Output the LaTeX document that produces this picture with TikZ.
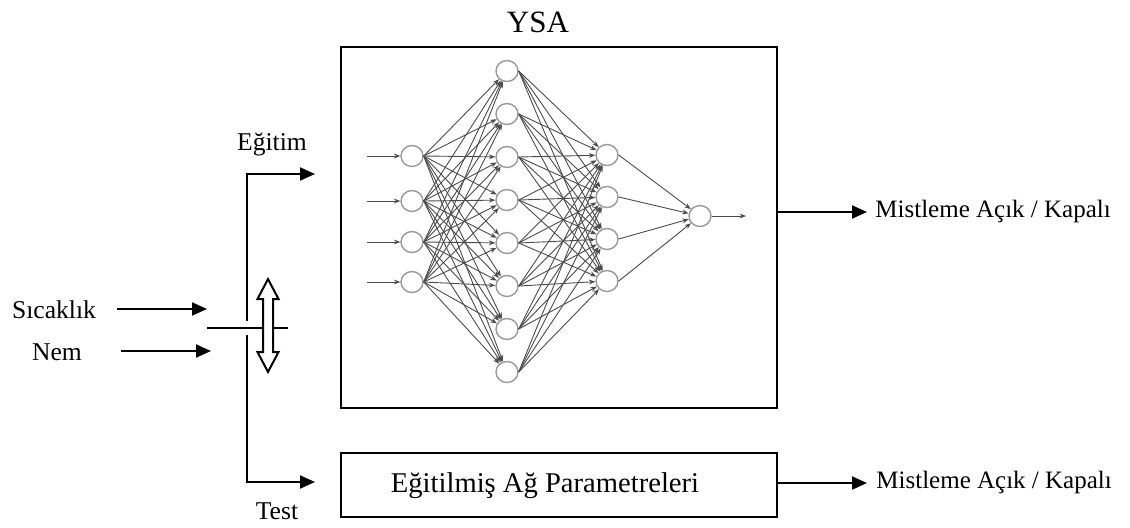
\documentclass[tikz,border=0pt]{standalone}
\usepackage{fontspec}
\setmainfont{Liberation Serif}
\usetikzlibrary{arrows.meta,shapes.geometric}
\begin{document}
\begin{tikzpicture}[x=0.5pt,y=-0.5pt,
  lbl/.style={font=\fontsize{12.8}{15}\selectfont, inner sep=0pt},
  blk/.style={draw=black, line width=1pt},
  flow/.style={draw=black, line width=1pt, -{Triangle[length=7.5pt,width=6.5pt]}},
  neuron/.style={draw=gray!80, ellipse, minimum width=11pt, minimum height=10.5pt, inner sep=0pt, line width=0.7pt},
  syn/.style={draw=black!70, line width=0.45pt, -{Stealth[length=3.2pt,width=2.4pt]}},
]
\useasboundingbox (0,0) rectangle (1130,527);

% main box and title
\node[blk, minimum width=218pt, minimum height=180.5pt, inner sep=0pt] (ysa) at (559,227.5) {};
\node[font=\fontsize{15.5}{18}\selectfont, inner sep=0pt, anchor=base] (ysat) at (538,32) {YSA};

% bottom box
\node[blk, minimum width=218pt, minimum height=32pt, inner sep=0pt] (par) at (559,485) {};
\node[font=\fontsize{14.3}{17}\selectfont, inner sep=0pt, anchor=base] (part) at (545,492) {Eğitilmiş Ağ Parametreleri};

% neural network
\foreach \y [count=\i] in {156,201,242,282} {
  \node[neuron] (i\i) at (412,\y) {};
  \coordinate (in\i) at (367,\y);
  \draw[syn] (in\i) -- (i\i);
}
\foreach \y [count=\i] in {71,114,157,200,243,286,329,372} {
  \node[neuron] (h\i) at (507,\y) {};
}
\foreach \y [count=\i] in {155,197,239,281} {
  \node[neuron] (g\i) at (607,\y) {};
}
\node[neuron] (o) at (700,216) {};
\coordinate (oe) at (746,216);
\foreach \a in {1,...,4} {
  \foreach \b in {1,...,8} {
    \draw[syn] (i\a.east) -- (h\b);
  }
}
\foreach \a in {1,...,8} {
  \foreach \b in {1,...,4} {
    \draw[syn] (h\a.east) -- (g\b);
  }
}
\foreach \a in {1,...,4} {
  \draw[syn] (g\a.east) -- (o);
}
\draw[syn] (o.east) -- (oe);

% inputs
\node[lbl, anchor=base] (sic) at (54,318) {Sıcaklık};
\node[lbl, anchor=base] (nem) at (57,360) {Nem};
\coordinate (sicS) at (117,309);
\coordinate (sicT) at (207,309);
\coordinate (nemS) at (121,351);
\coordinate (nemT) at (211,351);
\draw[flow] (sicS) -- (sicT);
\draw[flow] (nemS) -- (nemT);

% switch
\coordinate (barL) at (207,328);
\coordinate (barR) at (288,328);
\draw[blk] (barL) -- (barR);
\coordinate (gapT) at (247,321);
\coordinate (gapB) at (247,335);
\coordinate (eg) at (247,174);
\coordinate (egTip) at (315,174);
\coordinate (te) at (247,482);
\coordinate (teTip) at (315,482);
\draw[flow] (gapT) -- (eg) -- (egTip);
\draw[flow] (gapB) -- (te) -- (teTip);
\node[lbl, anchor=base] (egl) at (272,150) {Eğitim};
\node[lbl, anchor=base] (tel) at (277,519) {Test};

% hollow double arrow
\draw[line width=1pt, fill=white, line join=miter]
  (268,279) -- (278.5,299) -- (273,299) -- (273,352) -- (278.5,352) -- (268,372)
  -- (257.5,352) -- (263,352) -- (263,299) -- (257.5,299) -- cycle;

% outputs
\coordinate (o1S) at (777,212);
\coordinate (o1T) at (867,212);
\draw[flow] (o1S) -- (o1T);
\node[font=\fontsize{12.5}{15}\selectfont, inner sep=0pt, anchor=base west] (out1) at (875,217) {Mistleme Açık / Kapalı};
\coordinate (o2S) at (777,483);
\coordinate (o2T) at (867,483);
\draw[flow] (o2S) -- (o2T);
\node[font=\fontsize{12.5}{15}\selectfont, inner sep=0pt, anchor=base west] (out2) at (876,488) {Mistleme Açık / Kapalı};
\end{tikzpicture}
\end{document}
